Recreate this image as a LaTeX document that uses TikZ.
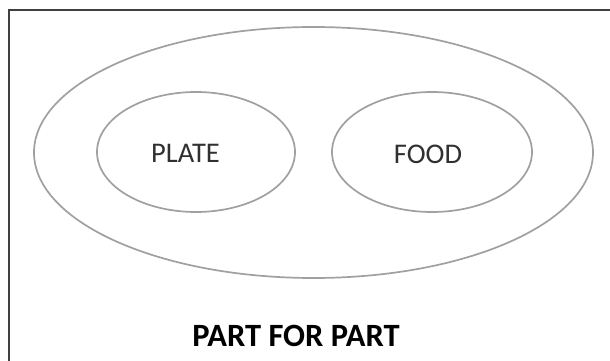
\documentclass[tikz,border=0pt]{standalone}
\usepackage{fontspec}
\setmainfont{Carlito}
\definecolor{framecol}{HTML}{404040}
\definecolor{ellcol}{HTML}{A0A0A0}
\definecolor{txtcol}{HTML}{303030}
\begin{document}
\begin{tikzpicture}[x=1pt,y=-1pt,
  frameline/.style={draw=framecol,line width=2.2pt},
  ell/.style={draw=ellcol,line width=1.7pt},
  lbl/.style={text=txtcol,font=\fontsize{28.5}{32}\selectfont,inner sep=0pt},
  ttl/.style={text=black,font=\bfseries\fontsize{32.5}{36}\selectfont,inner sep=0pt}]
\useasboundingbox (0,0) rectangle (610,361);
\coordinate (fbl) at (9,361);
\coordinate (ftl) at (9,10);
\coordinate (ftr) at (610,10);
\draw[frameline] (fbl) -- (ftl) -- (ftr);
\draw[ell] (313.5,152.5) ellipse [x radius=279.5, y radius=125.5];
\draw[ell] (196,152) ellipse [x radius=99, y radius=60];
\draw[ell] (432,152) ellipse [x radius=100, y radius=60];
\node[lbl] (plate) at (185.5,153) {PLATE};
\node[lbl] (food) at (428,154) {FOOD};
\node[ttl] (title) at (296,336) {PART FOR PART};
\end{tikzpicture}
\end{document}
